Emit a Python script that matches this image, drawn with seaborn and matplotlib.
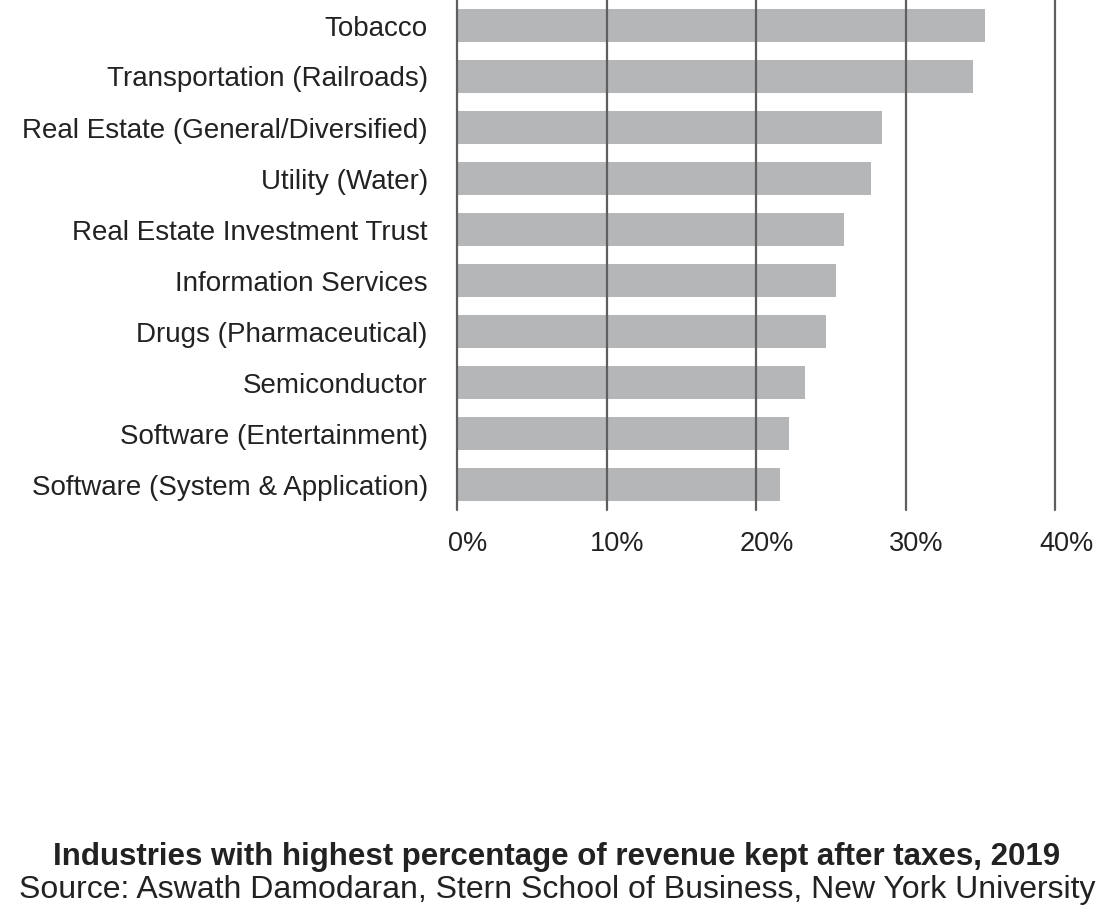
import matplotlib
matplotlib.use("Agg")
import matplotlib.pyplot as plt
import matplotlib.transforms as mtransforms
import seaborn as sns
import pandas as pd

industries = [
    "Tobacco",
    "Transportation (Railroads)",
    "Real Estate (General/Diversified)",
    "Utility (Water)",
    "Real Estate Investment Trust",
    "Information Services",
    "Drugs (Pharmaceutical)",
    "Semiconductor",
    "Software (Entertainment)",
    "Software (System & Application)",
]
pct_kept = [35.3, 34.5, 28.4, 27.7, 25.9, 25.35, 24.7, 23.3, 22.2, 21.6]
x_ticks = [0, 10, 20, 30, 40]
x_tick_labels = ["0%", "10%", "20%", "30%", "40%"]
title = "Industries with highest percentage of revenue kept after taxes, 2019"
source = "Source: Aswath Damodaran, Stern School of Business, New York University"

df = pd.DataFrame({"industry": industries, "pct": pct_kept})

sns.set_theme(style="white")
plt.rcParams["font.family"] = ["Liberation Sans", "DejaVu Sans"]

fig = plt.figure(figsize=(11.14, 9.22), dpi=100)
ax = fig.add_axes([457 / 1114, 1 - 510 / 922, (1055 - 457) / 1114, 510 / 922])

sns.barplot(data=df, x="pct", y="industry", orient="h", color="#b5b6b8",
            width=0.64, linewidth=0, saturation=1, ax=ax)

ax.set_xlim(0, 40)
ax.set_ylim(9.5, -0.5)
ax.set_xticks(x_ticks)
ax.set_xticklabels(x_tick_labels)
ax.set_xlabel("")
ax.set_ylabel("")
for s in ax.spines.values():
    s.set_visible(False)
ax.set_axisbelow(False)
ax.grid(axis="x", color="#5f5f5f", linewidth=1.6)
ax.grid(axis="y", visible=False)
for gl in ax.xaxis.get_gridlines():
    gl.set_clip_on(False)
ax.tick_params(axis="y", length=0, pad=21, labelsize=20, labelcolor="#222222")
ax.tick_params(axis="x", length=0, pad=15, labelsize=19.5, labelcolor="#222222")

offset = mtransforms.ScaledTranslation(11 / 100, 0, fig.dpi_scale_trans)
for lbl in ax.get_xticklabels():
    lbl.set_transform(lbl.get_transform() + offset)

fig.text(0.5, 1 - 857 / 922, title, ha="center", va="center",
         fontsize=22.5, fontweight="bold", color="#222222")
fig.text(0.5, 1 - 890 / 922, source, ha="center", va="center",
         fontsize=23, color="#222222")

fig.savefig("out.png", dpi=100, facecolor="white")
